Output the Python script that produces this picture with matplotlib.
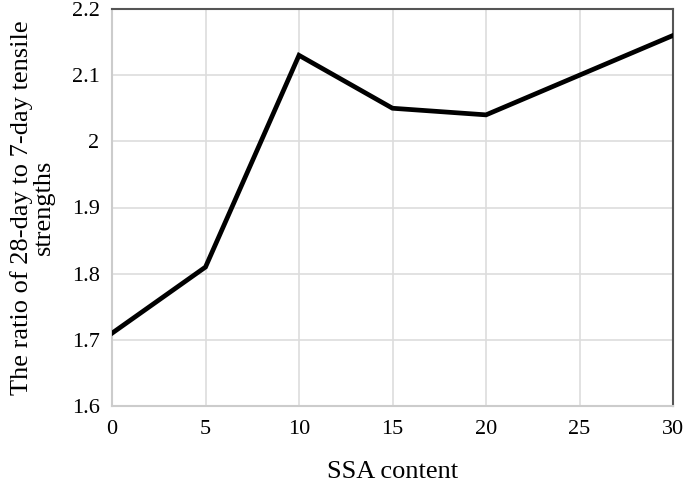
import matplotlib
matplotlib.use("Agg")
import matplotlib.pyplot as plt

ssa_content = [0, 5, 10, 15, 20, 25, 30]
ratio = [1.71, 1.81, 2.13, 2.05, 2.04, 2.10, 2.16]
x_ticks = [0, 5, 10, 15, 20, 25, 30]
y_ticks = [1.6, 1.7, 1.8, 1.9, 2.0, 2.1, 2.2]
y_tick_labels = ["1.6", "1.7", "1.8", "1.9", "2", "2.1", "2.2"]

plt.rcParams['font.family'] = ['Liberation Serif', 'DejaVu Serif']

fig = plt.figure(figsize=(6.85, 4.87), dpi=100)
ax = fig.add_axes([112/685, 1-406/487, (673-112)/685, (406-9)/487])

ax.plot(ssa_content, ratio, color='black', linewidth=3.4, solid_joinstyle='miter', zorder=3)

ax.set_xlim(0, 30)
ax.set_ylim(1.6, 2.2)
ax.set_xticks(x_ticks)
ax.set_yticks(y_ticks)
ax.set_yticklabels(y_tick_labels)
ax.tick_params(axis='x', length=0, labelsize=16, pad=10)
ax.tick_params(axis='y', length=0, labelsize=16, pad=9)
ax.grid(True, color='#dddddd', linewidth=1.2, zorder=0)

for s in ['left', 'bottom']:
    ax.spines[s].set_color('#cccccc')
    ax.spines[s].set_linewidth(1.5)
for s in ['top', 'right']:
    ax.spines[s].set_color('#555555')
    ax.spines[s].set_linewidth(1.5)

ax.set_xlabel('SSA content', fontsize=19, labelpad=16)
ax.set_ylabel('The ratio of 28-day to 7-day tensile\nstrengths', fontsize=19, labelpad=12, linespacing=1.0)

fig.savefig('out.png', dpi=100)
